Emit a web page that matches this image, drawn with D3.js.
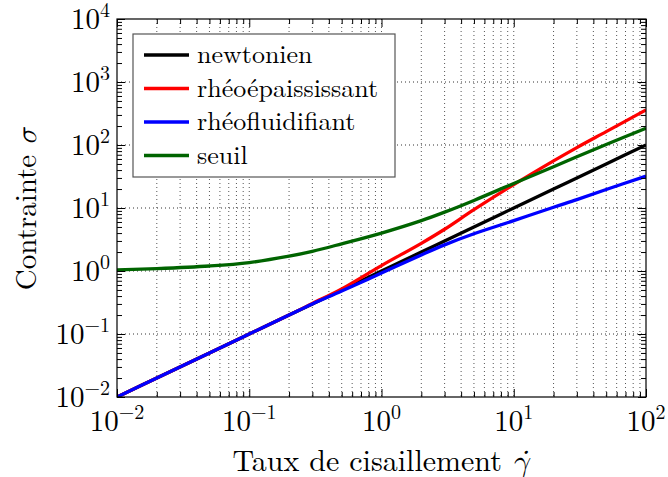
<!DOCTYPE html>
<html>
<head>
<meta charset="utf-8">
<script src="https://cdn.jsdelivr.net/npm/d3@7"></script>
<style>
  body { margin: 0; background: #fff; }
</style>
</head>
<body>
<script>
// shear rate values
var gammaDot = [0.01, 0.02, 0.05, 0.1, 0.2, 0.3, 0.5, 1, 2, 3, 5, 10, 20, 30, 50, 100];
var newtonien = [0.01, 0.02, 0.05, 0.1, 0.2, 0.3, 0.5, 1, 2, 3, 5, 10, 20, 30, 50, 100];
var rheoepaississant = [0.01, 0.02, 0.05, 0.1, 0.2, 0.305, 0.52, 1.22, 2.75, 4.6, 9.4, 23.5, 56, 91, 163, 360];
var rheofluidifiant = [0.01, 0.02, 0.05, 0.1, 0.2, 0.3, 0.48, 0.93, 1.8, 2.6, 3.9, 6.3, 10.3, 13.6, 19.7, 32];
var seuil = [1.04, 1.09, 1.2, 1.36, 1.72, 2.05, 2.7, 4.0, 6.3, 8.6, 13.2, 24.5, 45, 65, 102, 184];

var seriesNames = ["newtonien", "rhéoépaississant", "rhéofluidifiant", "seuil"];
var seriesValues = [newtonien, rheoepaississant, rheofluidifiant, seuil];
var seriesColors = ["#000000", "#ff0000", "#0000ff", "#006400"];

var xPowers = [-2, -1, 0, 1, 2];
var yPowers = [-2, -1, 0, 1, 2, 3, 4];

var w = 668, h = 477;
var mLeft = 117, mRight = 646, mTop = 19, mBottom = 397;
var roman = "'Latin Modern Roman', 'CMU Serif', 'Liberation Serif', serif";
var greek = "'CMU Serif', 'Latin Modern Math', 'Liberation Serif', serif";

var svg = d3.select("body").append("svg")
    .attr("width", w)
    .attr("height", h)
    .style("font-family", roman);

var x = d3.scaleLog().domain([1e-2, 1e2]).range([mLeft, mRight]);
var y = d3.scaleLog().domain([1e-2, 1e4]).range([mBottom, mTop]);

// minor positions 2..9 in each decade
function minors(powers) {
    var out = [];
    for (var i = 0; i < powers.length - 1; i++) {
        for (var k = 2; k <= 9; k++) out.push(k * Math.pow(10, powers[i]));
    }
    return out;
}
var xMajor = xPowers.map(function(p) { return Math.pow(10, p); });
var yMajor = yPowers.map(function(p) { return Math.pow(10, p); });
var xMinor = minors(xPowers);
var yMinor = minors(yPowers);

// GRID
var grid = svg.append("g").attr("class", "grid");
grid.selectAll("line.vx").data(xMajor.slice(1, -1).concat(xMinor)).enter().append("line")
    .attr("x1", function(d) { return x(d); }).attr("x2", function(d) { return x(d); })
    .attr("y1", mTop).attr("y2", mBottom)
    .attr("stroke", "#555").attr("stroke-width", 1).attr("stroke-dasharray", "1,3");
grid.selectAll("line.hy").data(yMajor.slice(1, -1)).enter().append("line")
    .attr("y1", function(d) { return y(d); }).attr("y2", function(d) { return y(d); })
    .attr("x1", mLeft).attr("x2", mRight)
    .attr("stroke", "#333").attr("stroke-width", 1).attr("stroke-dasharray", "1,3");

// CURVES
svg.append("clipPath").attr("id", "clip").append("rect")
    .attr("x", mLeft).attr("y", mTop).attr("width", mRight - mLeft).attr("height", mBottom - mTop);

var line = d3.line()
    .x(function(d) { return x(d[0]); })
    .y(function(d) { return y(d[1]); })
    .curve(d3.curveCatmullRom.alpha(0.5));

var curves = svg.append("g").attr("clip-path", "url(#clip)");
seriesValues.forEach(function(vals, i) {
    curves.append("path")
        .datum(gammaDot.map(function(g, j) { return [g, vals[j]]; }))
        .attr("d", line)
        .attr("fill", "none")
        .attr("stroke", seriesColors[i])
        .attr("stroke-width", 3.3);
});

// AXES (ticks inside, on all four sides)
var majLen = 8, minLen = 5;
var ax = svg.append("g").attr("class", "axes");
ax.append("g").attr("transform", "translate(0," + mBottom + ")")
    .call(d3.axisTop(x).tickValues(xMajor).tickSize(majLen).tickSizeOuter(0).tickFormat(""));
ax.append("g").attr("transform", "translate(0," + mBottom + ")")
    .call(d3.axisTop(x).tickValues(xMinor).tickSize(minLen).tickSizeOuter(0).tickFormat(""));
ax.append("g").attr("transform", "translate(0," + mTop + ")")
    .call(d3.axisBottom(x).tickValues(xMajor).tickSize(majLen).tickSizeOuter(0).tickFormat(""));
ax.append("g").attr("transform", "translate(0," + mTop + ")")
    .call(d3.axisBottom(x).tickValues(xMinor).tickSize(minLen).tickSizeOuter(0).tickFormat(""));
ax.append("g").attr("transform", "translate(" + mLeft + ",0)")
    .call(d3.axisRight(y).tickValues(yMajor).tickSize(majLen).tickSizeOuter(0).tickFormat(""));
ax.append("g").attr("transform", "translate(" + mLeft + ",0)")
    .call(d3.axisRight(y).tickValues(yMinor).tickSize(minLen).tickSizeOuter(0).tickFormat(""));
ax.append("g").attr("transform", "translate(" + mRight + ",0)")
    .call(d3.axisLeft(y).tickValues(yMajor).tickSize(majLen).tickSizeOuter(0).tickFormat(""));
ax.append("g").attr("transform", "translate(" + mRight + ",0)")
    .call(d3.axisLeft(y).tickValues(yMinor).tickSize(minLen).tickSizeOuter(0).tickFormat(""));
ax.selectAll(".domain").remove();
ax.selectAll("line").attr("stroke", "#000").attr("stroke-width", 1);

svg.append("rect")
    .attr("x", mLeft).attr("y", mTop).attr("width", mRight - mLeft).attr("height", mBottom - mTop)
    .attr("fill", "none").attr("stroke", "#000").attr("stroke-width", 1.2);

// TICK LABELS 10^p
function powLabel(sel, p) {
    sel.append("tspan").text("10");
    sel.append("tspan").style("font-size", "20px").attr("dy", -12)
        .text(p < 0 ? "\u2212" + (-p) : String(p));
}
xPowers.forEach(function(p) {
    var t = svg.append("text")
        .attr("x", x(Math.pow(10, p))).attr("y", 431)
        .attr("text-anchor", "middle").style("font-size", "29px");
    powLabel(t, p);
});
yPowers.forEach(function(p) {
    var t = svg.append("text")
        .attr("x", 110).attr("y", y(Math.pow(10, p)) + 10)
        .attr("text-anchor", "end").style("font-size", "29px");
    powLabel(t, p);
});

// AXIS TITLES
var xt = svg.append("text")
    .attr("x", 381).attr("y", 471)
    .attr("text-anchor", "middle").style("font-size", "30px");
xt.append("tspan").text("Taux de cisaillement ");
xt.append("tspan").style("font-family", greek).style("font-style", "italic").text("\u03b3\u0307");

var yt = svg.append("text")
    .attr("transform", "translate(36,209) rotate(-90)")
    .attr("text-anchor", "middle").style("font-size", "29px");
yt.append("tspan").text("Contrainte ");
yt.append("tspan").style("font-family", greek).style("font-style", "italic").text("\u03c3");

// LEGEND
var legend = svg.append("g");
legend.append("rect")
    .attr("x", 133).attr("y", 34).attr("width", 262).attr("height", 143)
    .attr("fill", "#fff").attr("stroke", "#555").attr("stroke-width", 1.2);
seriesNames.forEach(function(name, i) {
    var ry = 55 + i * 33.5;
    legend.append("line")
        .attr("x1", 144).attr("x2", 189).attr("y1", ry).attr("y2", ry)
        .attr("stroke", seriesColors[i]).attr("stroke-width", 3.3);
    legend.append("text")
        .attr("x", 197).attr("y", ry + 8)
        .style("font-size", "26px")
        .text(name);
});
</script>
</body>
</html>
